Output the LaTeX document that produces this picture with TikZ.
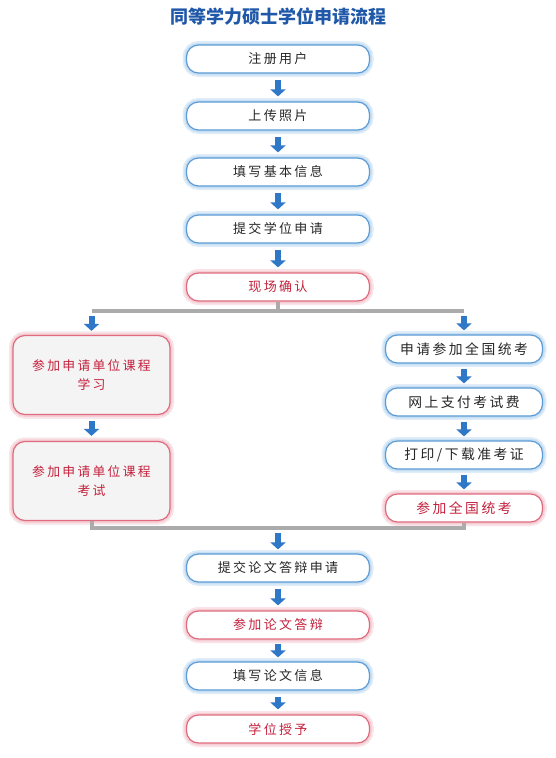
\documentclass[tikz,border=0pt]{standalone}
\usepackage{fontspec}
\usepackage{xcolor}
\usepackage{tikz}
\usetikzlibrary{arrows.meta,positioning,calc}
\newfontfamily\cjk[LetterSpace=18]{Noto Sans CJK SC}
\newfontfamily\cjkhead{Noto Sans CJK SC}
\definecolor{headblue}{HTML}{1F58A8}
\definecolor{edgeblue}{HTML}{5C9BD6}
\definecolor{glowblue}{HTML}{C6DFF3}
\definecolor{edgered}{HTML}{DE6B7E}
\definecolor{glowred}{HTML}{F6CDD4}
\definecolor{textred}{HTML}{C4213C}
\definecolor{arrblue}{HTML}{2F78C8}
\definecolor{bargray}{HTML}{ABABAB}
\definecolor{softgray}{HTML}{F4F4F4}
\tikzset{
  % Step boxes (blue and red)
  stepbox/.style={draw=edgeblue,line width=1.2pt,fill=white,rounded corners=12pt,
                  minimum width=183pt,minimum height=28pt,align=center,
                  font=\cjk\fontsize{13}{15}\selectfont,text=black!85,
                  preaction={draw=glowblue!55,line width=8pt},
                  preaction={draw=glowblue,line width=4.5pt}},
  redbox/.style={stepbox,draw=edgered,text=textred,
                 preaction={draw=glowred!55,line width=8pt},
                 preaction={draw=glowred,line width=4.5pt}},
  sidebox/.style={stepbox,minimum width=157pt,font=\cjk\fontsize{13.8}{15}\selectfont},
  sidered/.style={redbox,minimum width=157pt,font=\cjk\fontsize{13.8}{15}\selectfont},
  % Tall boxes on the left
  tallbox/.style={redbox,fill=softgray,minimum width=157pt,minimum height=79pt,
                  font=\cjk\fontsize{12.8}{19}\selectfont},
  % Connectors
  blk/.style={-{Triangle[width=15pt,length=7pt]},arrblue,line width=6pt,
              shorten <=6pt,shorten >=5pt},
  bar/.style={bargray,line width=4pt}
}
\begin{document}
\begin{tikzpicture}[x=1pt,y=-1pt]
  \useasboundingbox (0,0) rectangle (555,758);
  % Title
  \node[font=\cjkhead\bfseries\fontsize{18}{20}\selectfont,text=headblue] (title) at (278,17) {同等学力硕士学位申请流程};

  % Main column, top part
  \node[stepbox] (reg)  at (278,59)  {注册用户};
  \node[stepbox] (pho)  at (278,116) {上传照片};
  \node[stepbox] (info) at (278,172) {填写基本信息};
  \node[stepbox] (app)  at (278,229) {提交学位申请};
  \node[redbox]  (chk)  at (278,287) {现场确认};

  % Left branch
  \node[tallbox] (crs)  at (91.5,375) {参加申请单位课程\\学习};
  \node[tallbox] (cex)  at (91.5,481) {参加申请单位课程\\考试};

  % Right branch
  \node[sidebox] (nat)  at (464,349) {申请参加全国统考};
  \node[sidebox] (pay)  at (464,402) {网上支付考试费};
  \node[sidebox] (prt)  at (464,455) {打印/下载准考证};
  \node[sidered] (exm)  at (464,508) {参加全国统考};

  % Main column, bottom part
  \node[stepbox] (def)  at (278,568) {提交论文答辩申请};
  \node[redbox]  (att)  at (278,625) {参加论文答辩};
  \node[stepbox] (the)  at (278,676) {填写论文信息};
  \node[redbox]  (deg)  at (278,729) {学位授予};

  % Split and join points
  \coordinate (splitC) at (278,311);
  \coordinate (splitL) at (91.5,311);
  \coordinate (splitR) at (464,311);
  \coordinate (joinC)  at (278,528);

  % Gray bars
  \draw[bar] (chk.south) -- (splitC);
  \draw[bar] (splitL) -- (splitR);
  \draw[bar] (cex.south) |- (joinC) -| (exm.south);

  % Arrows
  \draw[blk] (reg)  -- (pho);
  \draw[blk] (pho)  -- (info);
  \draw[blk] (info) -- (app);
  \draw[blk] (app)  -- (chk);
  \draw[blk,shorten <=5pt,shorten >=4pt] (splitL) -- (crs.north);
  \draw[blk,shorten <=5pt,shorten >=4pt] (splitR) -- (nat.north);
  \draw[blk] (crs)  -- (cex);
  \draw[blk,shorten <=5pt,shorten >=4pt] (nat) -- (pay);
  \draw[blk,shorten <=5pt,shorten >=4pt] (pay) -- (prt);
  \draw[blk,shorten <=5pt,shorten >=4pt] (prt) -- (exm);
  \draw[blk,shorten <=5pt,shorten >=4pt] (joinC) -- (def.north);
  \draw[blk] (def)  -- (att);
  \draw[blk,shorten <=4pt,shorten >=4pt] (att)  -- (the);
  \draw[blk] (the)  -- (deg);
\end{tikzpicture}
\end{document}
